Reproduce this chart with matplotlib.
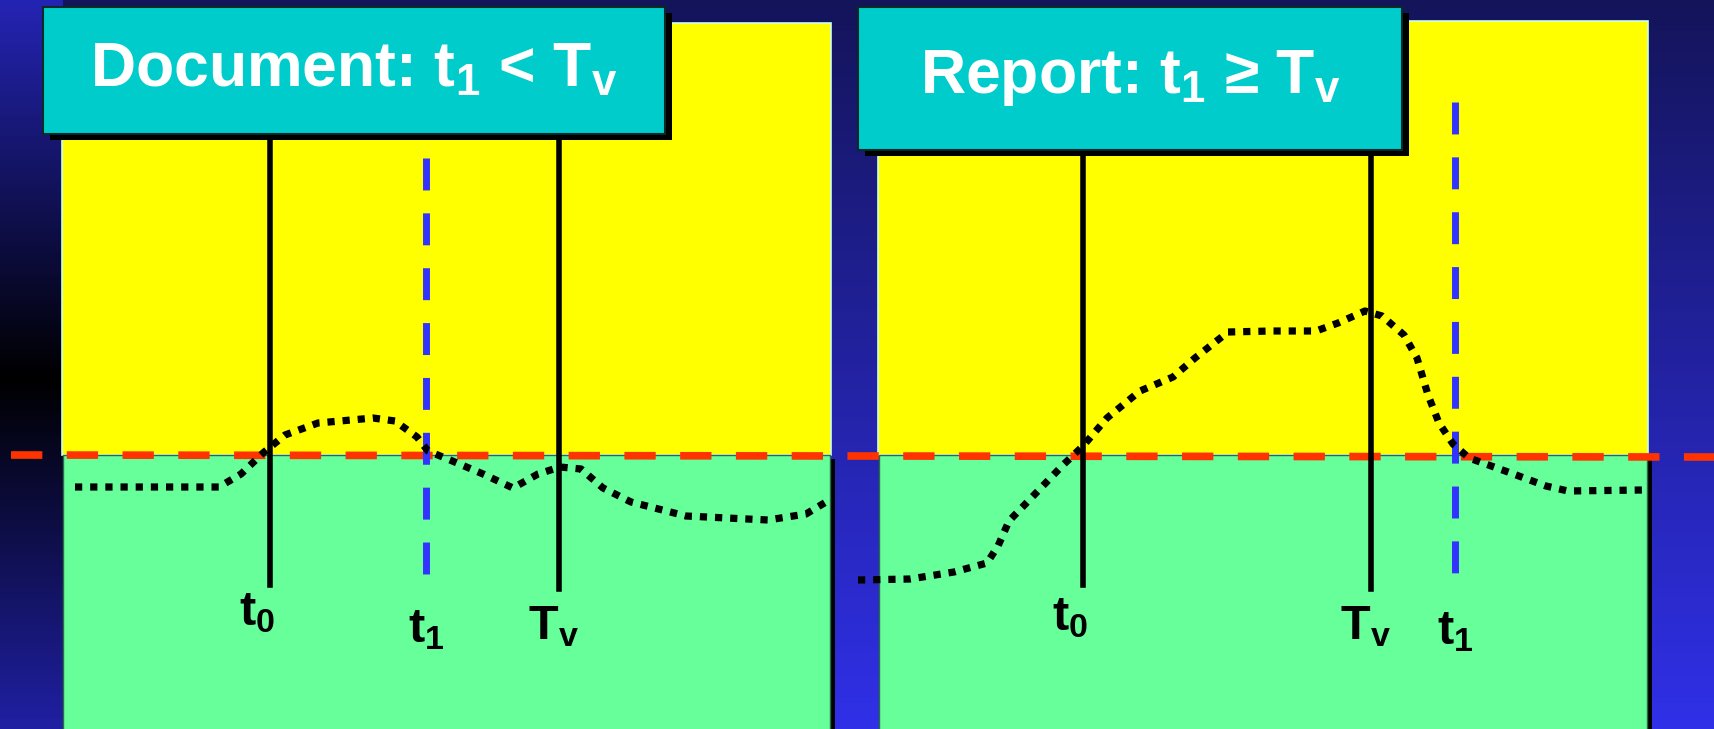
import numpy as np
import matplotlib.pyplot as plt
from matplotlib.patches import Rectangle
from matplotlib import font_manager

# fonts: narrow bold like the slide, fall back to Liberation Sans
names = {f.name for f in font_manager.fontManager.ttflist}
FONT = 'Liberation Sans Narrow' if 'Liberation Sans Narrow' in names else 'Liberation Sans'
plt.rcParams['mathtext.fontset'] = 'custom'
plt.rcParams['mathtext.rm'] = FONT
plt.rcParams['mathtext.bf'] = FONT + ':bold'
plt.rcParams['mathtext.it'] = FONT + ':bold'

W, H = 1715, 729

# ---- data (pixel coords) ----
titles = [r'Document: $\mathbf{t_1}$ < $\mathbf{T_v}$', r'Report: $\mathbf{t_1}$ ≥ $\mathbf{T_v}$']

left_curve_x = [75, 140, 219, 241, 263, 285, 318, 373, 395, 417, 428, 450, 483, 513,
                538, 560, 581, 603, 631, 686, 768, 806, 826]
left_curve_y = [487, 487, 487, 474, 453, 435, 423, 418, 421, 437, 451, 460, 474, 488,
                474, 467, 469, 488, 502, 516, 520, 514, 502]

right_curve_x = [858, 910, 954, 987, 998, 1009, 1036, 1063, 1083, 1107, 1140, 1173, 1195,
                 1228, 1272, 1316, 1338, 1365, 1382, 1404, 1417, 1428, 1439, 1453, 1469,
                 1508, 1546, 1568, 1642]
right_curve_y = [580, 579, 572, 563, 546, 521, 493, 465, 446, 418, 391, 377, 358,
                 332, 331, 331, 323, 311, 316, 335, 358, 395, 423, 444, 458,
                 472, 486, 491, 490]

# event times per panel: t0, t1, Tv
left_events = {'t0': 270, 't1': 426, 'Tv': 559}
right_events = {'t0': 1083, 't1': 1455, 'Tv': 1371}
event_labels = {'t0': r'$\mathbf{t_0}$', 't1': r'$\mathbf{t_1}$', 'Tv': r'$\mathbf{T_v}$'}

threshold_y = [455, 457]

# ---- figure ----
fig = plt.figure(figsize=(W / 100, H / 100), dpi=100)
ax = fig.add_axes([0, 0, 1, 1])
ax.set_xlim(0, W)
ax.set_ylim(H, 0)
ax.axis('off')

# background gradient
yy = np.linspace(0, 1, H)[:, None]
top = np.array([20, 20, 90]) / 255
bot = np.array([48, 48, 232]) / 255
bg = np.ones((H, W, 3)) * (top + (bot - top) * yy[:, :, None])
# darker strip at the left edge, black band in the middle
s_top = np.array([36, 36, 180]) / 255
s_bot = np.array([32, 32, 164]) / 255
yv = np.arange(H)
strip = np.where((yv < 378)[:, None],
                 s_top * (1 - yv / 378.)[:, None],
                 s_bot * ((yv - 378) / (H - 378.))[:, None])
bg[:, :63, :] = strip[:, None, :]
ax.imshow(bg, extent=(0, W, H, 0), aspect='auto', zorder=0)

panels = [
    dict(x0=62, x1=831, ytop=23, box=(43, 7, 622, 127), ttl_y=70,
         cx=left_curve_x, cy=left_curve_y, ev=left_events,
         blue=(158, 581), lab=dict(t0=(-13, 590), t1=(0, 607), Tv=(-6, 604))),
    dict(x0=878, x1=1648, ytop=21, box=(858, 7, 544, 143), ttl_y=78,
         cx=right_curve_x, cy=right_curve_y, ev=right_events,
         blue=(102, 581), lab=dict(t0=(-13, 595), t1=(0, 609), Tv=(-6, 604))),
]

for i, p in enumerate(panels):
    ym = threshold_y[0]
    # yellow / green zones
    ax.add_patch(Rectangle((p['x0'], p['ytop']), p['x1'] - p['x0'], ym - p['ytop'],
                           facecolor='#FFFF00', edgecolor='#CCFFEE', lw=1.2, zorder=1))
    ax.add_patch(Rectangle((p['x0'] + 6, ym + 4), p['x1'] - p['x0'] - 2, H,
                           facecolor='black', lw=0, zorder=1))
    ax.add_patch(Rectangle((p['x0'] + 1, ym), p['x1'] - p['x0'] - 2, H,
                           facecolor='#66FF99', edgecolor='#2a6a4a', lw=1.0, zorder=1.5))

    ev = p['ev']
    # solid event lines t0 and Tv
    ax.plot([ev['t0'], ev['t0']], [p['box'][1] + p['box'][3], 585], color='black', lw=4, zorder=4)
    ax.plot([ev['Tv'], ev['Tv']], [p['box'][1] + p['box'][3], 589], color='black', lw=4, zorder=4)
    # dashed t1
    ax.plot([ev['t1'], ev['t1']], list(p['blue']), color='#3333FF', lw=5,
            dashes=(4.6, 3.3), dash_capstyle='butt', zorder=4)

    # signal curve
    ax.plot(p['cx'], p['cy'], color='black', lw=5.2, dashes=(1, 1.1),
            dash_capstyle='butt', solid_joinstyle='round', zorder=5)

    # title box with drop shadow
    bx, by, bw, bh = p['box']
    ax.add_patch(Rectangle((bx + 7, by + 6), bw, bh, facecolor='black', lw=0, zorder=6))
    ax.add_patch(Rectangle((bx, by), bw, bh, facecolor='#00CCCC', edgecolor='#062a2a',
                           lw=1.5, zorder=7))
    ax.text(bx + bw / 2, p['ttl_y'], titles[i], color='white', fontsize=45,
            fontweight='bold', family=FONT, ha='center', va='center', zorder=8)

    for k, (dx, ty) in p['lab'].items():
        ax.text(ev[k] + dx, ty, event_labels[k], color='black', fontsize=35,
                fontweight='bold', family=FONT, ha='center', va='top', zorder=8)

# threshold line across the whole slide
ax.plot([11, W], threshold_y, color='#FF3300', lw=5.5, dashes=(4.1, 3.2),
        dash_capstyle='butt', zorder=3)

fig.savefig('out.png', dpi=100)
